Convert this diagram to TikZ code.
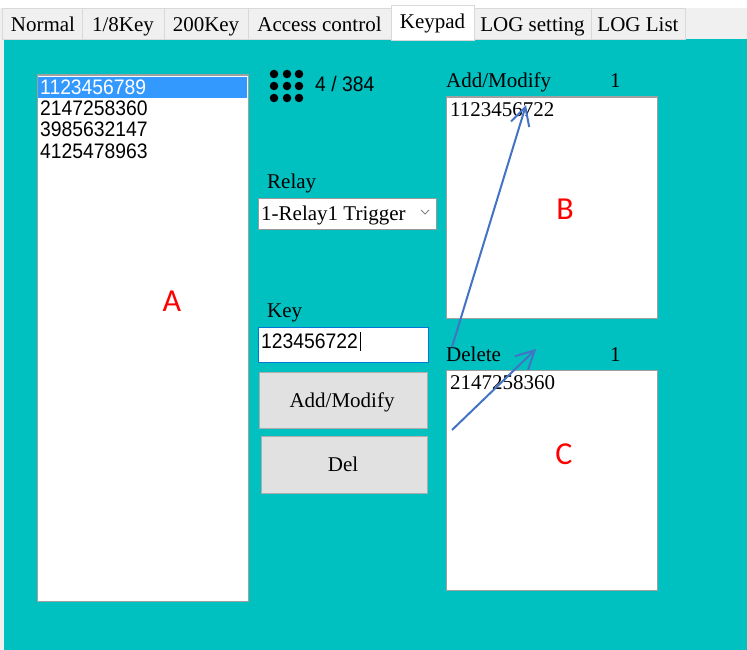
\documentclass[tikz,border=0pt]{standalone}
\usepackage{fontspec}
\setmainfont{Liberation Serif}
\newfontfamily\digitfont[FakeStretch=0.92]{Liberation Sans}
\newfontfamily\calib{Carlito}
\usetikzlibrary{arrows.meta}
\definecolor{teal0}{RGB}{0,192,192}
\definecolor{tabgray}{RGB}{240,240,240}
\definecolor{tabline}{RGB}{217,217,217}
\definecolor{boxline}{RGB}{160,160,160}
\definecolor{selblue}{RGB}{51,153,255}
\definecolor{btnfill}{RGB}{225,225,225}
\definecolor{btnline}{RGB}{173,173,173}
\definecolor{focusblue}{RGB}{0,120,215}
\definecolor{arrowblue}{RGB}{68,114,196}
\definecolor{markred}{RGB}{255,0,0}
\tikzset{
  txt/.style={inner sep=0pt, anchor=base west, font=\fontsize{21}{25}\selectfont},
  ctxt/.style={inner sep=0pt, anchor=base, font=\fontsize{21}{25}\selectfont},
  dtxt/.style={inner sep=0pt, anchor=base west, font=\digitfont\fontsize{21}{25}\selectfont},
  bigletter/.style={inner sep=0pt, anchor=base, text=markred, font=\calib\fontsize{32}{36}\selectfont},
  whitebox/.style={draw=boxline, line width=1.5pt, fill=white, anchor=north west, inner sep=0pt},
  tabbox/.style={draw=tabline, line width=1pt, fill=tabgray, anchor=north west, inner sep=0pt, minimum height=31},
  selbox/.style={draw=tabline, line width=1pt, fill=white, anchor=north west, inner sep=0pt, minimum height=35},
  btn/.style={draw=btnline, line width=1.5pt, fill=btnfill, anchor=north west, inner sep=0pt},
  dot/.style={circle, fill=black, inner sep=0pt, minimum size=8.5},
  flow/.style={draw=arrowblue, line width=2pt, -{Straight Barb[length=18pt, width=19pt, line width=2pt]}},
}
\begin{document}
\begin{tikzpicture}[x=1pt, y=-1pt]
\useasboundingbox (0,0) rectangle (747,650);
% backgrounds
\fill[white] (0,0) rectangle (747,650);
\fill[tabgray] (0,8) rectangle (747,39);
\fill[tabgray] (0,39) rectangle (4,650);
\fill[teal0] (4,39) rectangle (747,650);
% tabs
\node[tabbox, minimum width=80] (t1) at (2,8) {};
\node[tabbox, minimum width=82] (t2) at (82,8) {};
\node[tabbox, minimum width=84] (t3) at (164,8) {};
\node[tabbox, minimum width=143] (t4) at (248,8) {};
\node[tabbox, minimum width=117] (t6) at (474,8) {};
\node[tabbox, minimum width=94] (t7) at (591,8) {};
\node[selbox, minimum width=83] (t5) at (391,5) {};
\node[ctxt] at (43,32) {Normal};
\node[ctxt] at (123,32) {1/8Key};
\node[ctxt] at (206,32) {200Key};
\node[ctxt] at (319.5,32) {Access control};
\node[ctxt] at (432.5,29) {Keypad};
\node[ctxt] at (532.5,32) {LOG setting};
\node[ctxt] at (638,32) {LOG List};
% list A
\node[whitebox, minimum width=211, minimum height=526] (A) at (36.5,74.5) {};
\fill[selblue] (38,77) rectangle (247,98);
\node[dtxt, text=white] (a1) at (40,95) {1123456789};
\node[dtxt] (a2) at (40,116) {2147258360};
\node[dtxt] (a3) at (40,137) {3985632147};
\node[dtxt] (a4) at (40,159) {4125478963};
\node[bigletter] (lA) at (172,311) {A};
% keypad icon
\foreach \i/\xx in {1/274,2/287,3/299}{
  \foreach \j/\yy in {1/74,2/86,3/98}{
    \node[dot] (d\i\j) at (\xx,\yy) {};
  }
}
\node[dtxt] (cnt) at (315,92) {4 / 384};
% relay
\node[txt] (relay) at (267,189) {Relay};
\node[whitebox, draw=gray!80, line width=1.2pt, minimum width=178, minimum height=31] (combo) at (257.5,197.5) {};
\node[txt] (combotxt) at (261,220) {1-Relay1 Trigger};
\draw[gray, line width=1pt] (421,210) -- (425,214) -- (429,210);
% key
\node[txt] (key) at (267,317) {Key};
\node[whitebox, draw=focusblue, line width=1.2pt, minimum width=170, minimum height=35] (keybox) at (257.5,326.5) {};
\node[dtxt] (keytxt) at (261,348) {123456722};
\draw[black, line width=1pt] (360,332) -- (360,351);
% buttons
\node[btn, minimum width=168, minimum height=56] (addbtn) at (258.5,371.5) {};
\node[ctxt] at (342,407) {Add/Modify};
\node[btn, minimum width=166, minimum height=57] (delbtn) at (260.5,435.5) {};
\node[ctxt] at (343,471) {Del};
% box B
\node[txt] (addlbl) at (446,88) {Add/Modify};
\node[txt] (addn) at (610,88) {1};
\node[whitebox, minimum width=211, minimum height=221] (B) at (445.5,96.5) {};
\node[txt] (btxt) at (450,117) {1123456722};
\node[bigletter] (lB) at (565,219) {B};
% box C
\node[txt] (dellbl) at (446,361) {Delete};
\node[txt] (deln) at (610,361) {1};
\node[whitebox, minimum width=211, minimum height=220] (C) at (445.5,369.5) {};
\node[txt] (ctxt) at (450,389) {2147258360};
\node[bigletter] (lC) at (564,464) {C};
% arrows
\coordinate (p1) at (452,347);
\coordinate (q1) at (526,105);
\coordinate (p2) at (452,430);
\coordinate (q2) at (536,349);
\draw[flow] (p1) -- (q1);
\draw[flow] (p2) -- (q2);
\end{tikzpicture}
\end{document}
